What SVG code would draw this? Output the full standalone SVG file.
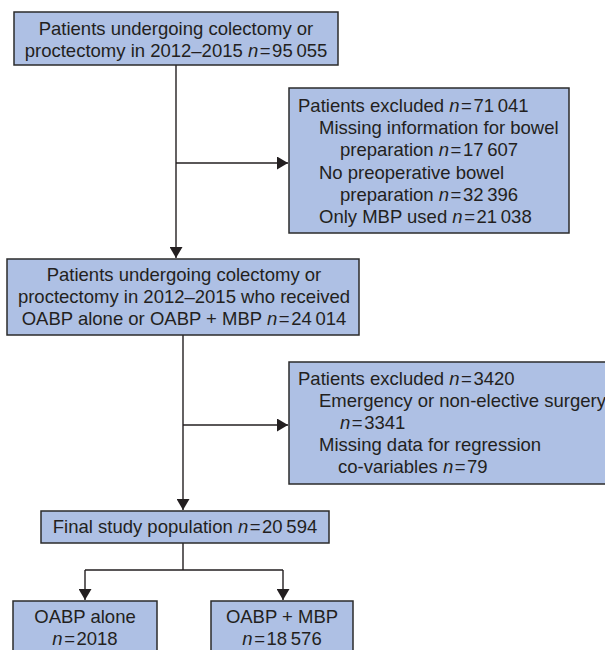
<svg xmlns="http://www.w3.org/2000/svg" width="605" height="650" viewBox="0 0 605 650">
  <defs>
    <marker id="arrow" markerUnits="userSpaceOnUse" markerWidth="12" markerHeight="13" refX="11" refY="6.5" orient="auto">
      <path d="M0,0 L11,6.5 L0,13 Z" fill="#231f20"/>
    </marker>
    <style>
      .box { fill: #aec0e4; stroke: #2b2b2b; stroke-width: 1.5; }
      .t { font-family: "Liberation Sans", Arial, sans-serif; font-size: 18.5px; fill: #231f20; }
      .c { text-anchor: middle; }
      .i { font-style: italic; }
      .conn { fill: none; stroke: #231f20; stroke-width: 1.4; }
    </style>
  </defs>
  <rect width="605" height="650" fill="#ffffff"/>

  <g id="connectors">
    <path class="conn" d="M176,65 V258" marker-end="url(#arrow)"/>
    <path class="conn" d="M176,163 H288" marker-end="url(#arrow)"/>
    <path class="conn" d="M183,335 V510" marker-end="url(#arrow)"/>
    <path class="conn" d="M183,425 H288" marker-end="url(#arrow)"/>
    <path class="conn" d="M183,543 V570 M85,570 H283"/>
    <path class="conn" d="M85,570 V600" marker-end="url(#arrow)"/>
    <path class="conn" d="M283,570 V600" marker-end="url(#arrow)"/>
  </g>

  <g id="node-all-patients">
    <rect class="box" x="14" y="12" width="324" height="53"/>
    <text class="t c" x="176" y="34.5">Patients undergoing colectomy or</text>
    <text class="t c" x="176" y="56.7">proctectomy in 2012–2015 <tspan class="i">n</tspan>&#8202;=&#8202;95&#8201;055</text>
  </g>

  <g id="node-excluded-1">
    <rect class="box" x="289" y="88" width="280" height="145"/>
    <text class="t" x="298" y="112">Patients excluded <tspan class="i">n</tspan>&#8202;=&#8202;71&#8201;041</text>
    <text class="t" x="319" y="134.2">Missing information for bowel</text>
    <text class="t" x="340" y="156.4">preparation <tspan class="i">n</tspan>&#8202;=&#8202;17&#8201;607</text>
    <text class="t" x="319" y="178.6">No preoperative bowel</text>
    <text class="t" x="340" y="200.8">preparation <tspan class="i">n</tspan>&#8202;=&#8202;32&#8201;396</text>
    <text class="t" x="319" y="223">Only MBP used <tspan class="i">n</tspan>&#8202;=&#8202;21&#8201;038</text>
  </g>

  <g id="node-oabp-patients">
    <rect class="box" x="7" y="259" width="352" height="76"/>
    <text class="t c" x="184" y="281">Patients undergoing colectomy or</text>
    <text class="t c" x="184" y="303.2">proctectomy in 2012–2015 who received</text>
    <text class="t c" x="184" y="325.4">OABP alone or OABP + MBP <tspan class="i">n</tspan>&#8202;=&#8202;24&#8201;014</text>
  </g>

  <g id="node-excluded-2">
    <rect class="box" x="289" y="362" width="330" height="122"/>
    <text class="t" x="298" y="384.5">Patients excluded <tspan class="i">n</tspan>&#8202;=&#8202;3420</text>
    <text class="t" x="319" y="406.7">Emergency or non-elective surgery</text>
    <text class="t" x="340" y="428.9"><tspan class="i">n</tspan>&#8202;=&#8202;3341</text>
    <text class="t" x="319" y="451.1">Missing data for regression</text>
    <text class="t" x="338" y="473.3">co-variables <tspan class="i">n</tspan>&#8202;=&#8202;79</text>
  </g>

  <g id="node-final">
    <rect class="box" x="41" y="511" width="288" height="32"/>
    <text class="t c" x="185" y="533">Final study population <tspan class="i">n</tspan>&#8202;=&#8202;20&#8201;594</text>
  </g>

  <g id="node-oabp-alone">
    <rect class="box" x="13" y="601" width="144" height="60"/>
    <text class="t c" x="85" y="622.5">OABP alone</text>
    <text class="t c" x="85" y="644.7"><tspan class="i">n</tspan>&#8202;=&#8202;2018</text>
  </g>

  <g id="node-oabp-mbp">
    <rect class="box" x="211" y="601" width="142" height="60"/>
    <text class="t c" x="282" y="622.5">OABP + MBP</text>
    <text class="t c" x="282" y="644.7"><tspan class="i">n</tspan>&#8202;=&#8202;18&#8201;576</text>
  </g>
</svg>
